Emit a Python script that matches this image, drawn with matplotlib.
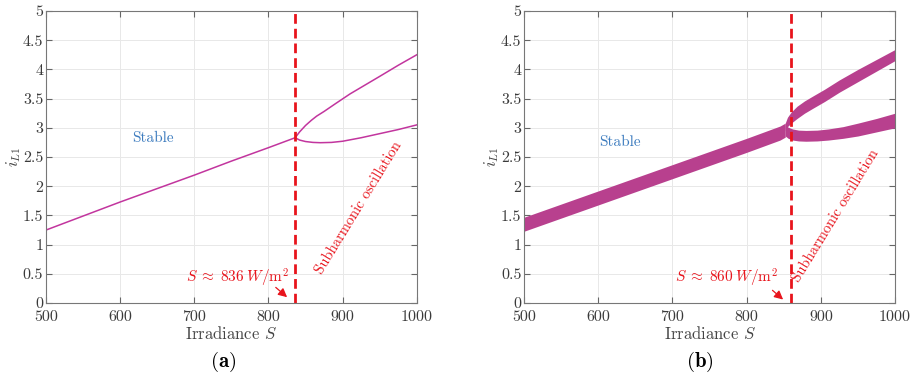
import matplotlib.pyplot as plt

plt.rcParams['font.family'] = 'cmr10'
plt.rcParams['mathtext.fontset'] = 'cm'
plt.rcParams['axes.unicode_minus'] = False

# (a) ideal model: single trajectory, period-doubling at S ~ 836
s_a_stable = [500, 550, 600, 650, 700, 750, 800, 836]
i_a_stable = [1.25, 1.49, 1.73, 1.96, 2.19, 2.43, 2.66, 2.83]
s_a_upper = [836, 842, 850, 858, 865, 875, 890, 910, 930, 950, 975, 1000]
i_a_upper = [2.83, 2.93, 3.04, 3.13, 3.20, 3.28, 3.41, 3.58, 3.73, 3.88, 4.07, 4.25]
s_a_lower = [836, 842, 850, 860, 870, 885, 900, 925, 950, 975, 1000]
i_a_lower = [2.83, 2.79, 2.765, 2.75, 2.745, 2.75, 2.77, 2.83, 2.90, 2.97, 3.05]
s_crit_a = 836

# (b) with ripple: min/max envelope of the inductor current
s_b_stable = [500, 600, 700, 800, 830, 845, 852]
lo_b_stable = [1.23, 1.68, 2.13, 2.58, 2.72, 2.79, 2.84]
hi_b_stable = [1.47, 1.92, 2.37, 2.82, 2.96, 3.03, 3.08]
s_b_upper = [852, 855, 860, 868, 878, 890, 905, 925, 950, 975, 1000]
lo_b_upper = [2.95, 3.02, 3.08, 3.16, 3.25, 3.34, 3.45, 3.61, 3.79, 3.97, 4.15]
hi_b_upper = [3.08, 3.18, 3.27, 3.37, 3.46, 3.55, 3.66, 3.82, 4.00, 4.17, 4.34]
s_b_lower = [852, 856, 862, 870, 880, 895, 910, 930, 950, 975, 1000]
lo_b_lower = [2.86, 2.82, 2.79, 2.775, 2.77, 2.775, 2.79, 2.82, 2.86, 2.93, 3.00]
hi_b_lower = [3.05, 3.01, 2.98, 2.96, 2.955, 2.96, 2.98, 3.02, 3.08, 3.16, 3.25]
s_crit_b = 860

xticks = [500, 600, 700, 800, 900, 1000]
yticks = [0, 0.5, 1, 1.5, 2, 2.5, 3, 3.5, 4, 4.5, 5]
ytick_labels = ['0', '0.5', '1', '1.5', '2', '2.5', '3', '3.5', '4', '4.5', '5']

line_col = '#c2359e'
band_col = '#b8408e'
red = '#e8141c'
blue = '#3d7cbf'

fig = plt.figure(figsize=(9.12, 3.77), dpi=100)
ax_a = fig.add_axes([0.0504, 0.196, 0.4066, 0.775])
ax_b = fig.add_axes([0.5746, 0.196, 0.4068, 0.775])


def style_axes(ax):
    ax.set_xlim(500, 1000)
    ax.set_ylim(0, 5)
    ax.set_xticks(xticks)
    ax.set_yticks(yticks)
    ax.set_yticklabels(ytick_labels)
    ax.grid(True, color='#e8e8e8', linewidth=0.7)
    ax.set_axisbelow(True)
    ax.tick_params(direction='in', top=True, right=True, length=4,
                   labelsize=11.5, colors='#666666', labelcolor='#3a3a3a')
    ax.tick_params(axis='x', pad=5)
    ax.tick_params(axis='y', pad=2)
    for sp in ax.spines.values():
        sp.set_color('#777777')
        sp.set_linewidth(0.8)
    ax.set_xlabel('Irradiance $S$', fontsize=12, color='#444444', labelpad=1)
    ax.set_ylabel('$i_{L1}$', fontsize=12, color='#444444', labelpad=0)


# panel (a)
style_axes(ax_a)
ax_a.plot(s_a_stable, i_a_stable, color=line_col, lw=1.1)
ax_a.plot(s_a_upper, i_a_upper, color=line_col, lw=1.1)
ax_a.plot(s_a_lower, i_a_lower, color=line_col, lw=1.1)
ax_a.axvline(s_crit_a, color=red, lw=2.0, dashes=(3.5, 1.8))
ax_a.text(644, 2.83, 'Stable', color=blue, fontsize=11, ha='center', va='center')
ax_a.text(921, 1.63, 'Subharmonic oscillation', color=red, fontsize=10.5,
          rotation=58.5, ha='center', va='center')
ax_a.text(827, 0.43, r'$S\;\approx\;836\;W/\mathrm{m}^2$', color=red, fontsize=11,
          ha='right', va='center')
ax_a.annotate('', xy=(828, 0.07), xytext=(807, 0.30),
              arrowprops=dict(arrowstyle='-|>', color=red, lw=0.9,
                              mutation_scale=13))

# panel (b)
style_axes(ax_b)
ax_b.fill_between(s_b_stable, lo_b_stable, hi_b_stable, color=band_col, lw=0)
ax_b.fill_between(s_b_upper, lo_b_upper, hi_b_upper, color=band_col, lw=0)
ax_b.fill_between(s_b_lower, lo_b_lower, hi_b_lower, color=band_col, lw=0)
ax_b.axvline(s_crit_b, color=red, lw=2.0, dashes=(3.5, 1.8))
ax_b.text(629, 2.76, 'Stable', color=blue, fontsize=11, ha='center', va='center')
ax_b.text(920, 1.49, 'Subharmonic oscillation', color=red, fontsize=10.5,
          rotation=58.5, ha='center', va='center')
ax_b.text(842, 0.43, r'$S\;\approx\;860\;W/\mathrm{m}^2$', color=red, fontsize=11,
          ha='right', va='center')
ax_b.annotate('', xy=(852, 0.03), xytext=(832, 0.25),
              arrowprops=dict(arrowstyle='-|>', color=red, lw=0.9,
                              mutation_scale=13))

fig.text(223 / 912, 1 - 362 / 377, r'($\mathbf{a}$)', fontsize=15,
         ha='center', va='center')
fig.text(700 / 912, 1 - 362 / 377, r'($\mathbf{b}$)', fontsize=15,
         ha='center', va='center')

fig.savefig('out.png', dpi=100)
